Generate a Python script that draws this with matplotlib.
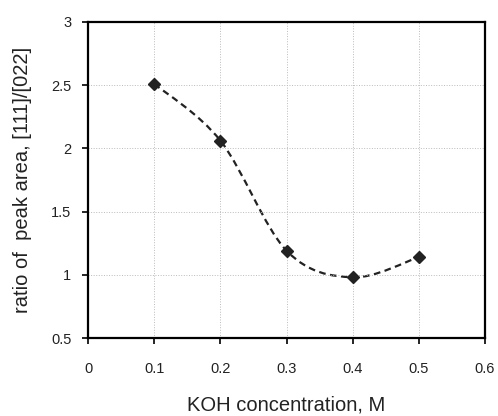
import numpy as np
import matplotlib.pyplot as plt
from matplotlib.path import Path
from matplotlib.patches import PathPatch

plt.rcParams['font.family'] = ['Liberation Sans', 'DejaVu Sans']

koh = [0.1, 0.2, 0.3, 0.4, 0.5]
ratio = [2.51, 2.06, 1.19, 0.98, 1.14]
x_ticks = [0, 0.1, 0.2, 0.3, 0.4, 0.5, 0.6]
y_ticks = [0.5, 1, 1.5, 2, 2.5, 3]


def smooth_path(xs, ys, t=1/6):
    # bezier through the points, like Excel's smoothed line
    pts = np.column_stack([xs, ys])
    n = len(pts)
    verts = [pts[0]]
    codes = [Path.MOVETO]
    for i in range(n - 1):
        p0 = pts[max(i - 1, 0)]
        p1 = pts[i]
        p2 = pts[i + 1]
        p3 = pts[min(i + 2, n - 1)]
        c1 = p1 + (p2 - p0) * t
        c2 = p2 - (p3 - p1) * t
        verts += [c1, c2, p2]
        codes += [Path.CURVE4] * 3
    return Path(verts, codes)


fig = plt.figure(figsize=(4.98, 4.16), dpi=100)
ax = fig.add_axes([0.177, 0.1875, 0.797, 0.76])

ax.add_patch(PathPatch(smooth_path(koh, ratio), fill=False, edgecolor='#222222',
                       lw=1.6, ls=(0, (3, 2))))
ax.plot(koh, ratio, ls='none', marker='D', ms=6.5, color='#222222')

ax.set_xlim(0, 0.6)
ax.set_ylim(0.5, 3)
ax.set_xticks(x_ticks)
ax.set_xticklabels([f'{v:g}' for v in x_ticks])
ax.set_yticks(y_ticks)
ax.set_yticklabels([f'{v:g}' for v in y_ticks])
ax.grid(True, color='#bbbbbb', lw=0.7, ls=':')
ax.tick_params(labelsize=10.5, length=4, width=1.2, labelcolor='#222222')
ax.tick_params(axis='x', pad=13)
ax.tick_params(axis='y', pad=8)
for s in ax.spines.values():
    s.set_linewidth(1.6)

ax.set_xlabel('KOH concentration, M', fontsize=14.5, labelpad=14, color='#222222')
ax.set_ylabel('ratio of  peak area, [111]/[022]', fontsize=14.5, labelpad=14,
              color='#222222')

fig.savefig('out.png', dpi=100)
